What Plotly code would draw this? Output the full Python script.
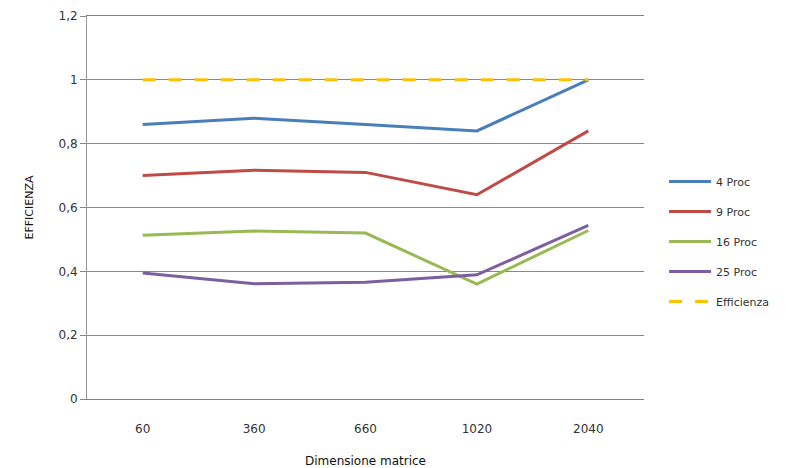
import plotly.graph_objects as go

categories = ["60", "360", "660", "1020", "2040"]
proc4 = [0.86, 0.88, 0.86, 0.84, 1.0]
proc9 = [0.70, 0.717, 0.71, 0.64, 0.84]
proc16 = [0.513, 0.526, 0.52, 0.36, 0.528]
proc25 = [0.395, 0.361, 0.366, 0.389, 0.544]
efficienza = [1, 1, 1, 1, 1]
ytick_vals = [0, 0.2, 0.4, 0.6, 0.8, 1.0, 1.2]
ytick_text = ["0", "0,2", "0,4", "0,6", "0,8", "1", "1,2"]

series = [
    ("4 Proc", proc4, "#4A7EBB", "solid"),
    ("9 Proc", proc9, "#BE4B48", "solid"),
    ("16 Proc", proc16, "#98B954", "solid"),
    ("25 Proc", proc25, "#7D5FA0", "solid"),
    ("Efficienza", efficienza, "#FFC000", "13px,13px"),
]

fig = go.Figure()
for i, (name, vals, color, dash) in enumerate(series):
    fig.add_trace(go.Scatter(
        x=categories, y=vals, name=name, mode="lines",
        line=dict(color=color, width=3, dash=dash),
        legendgroup=name,
    ))

font_family = "DejaVu Sans, sans-serif"
fig.update_layout(
    width=790, height=468,
    margin=dict(l=79, r=154, t=8, b=77),
    paper_bgcolor="white", plot_bgcolor="white",
    font=dict(family=font_family, size=11, color="#333333"),
    showlegend=True,
    legend=dict(x=1.036, y=0.606, xanchor="left", yanchor="top",
                font=dict(size=11, color="#333333"),
                traceorder="grouped", tracegroupgap=11,
                itemwidth=42,
                bgcolor="rgba(0,0,0,0)"),
    xaxis=dict(
        type="category", range=[-0.5, 4.5], automargin=False,
        showgrid=False, zeroline=False,
        showline=True, mirror=True, linecolor="#7F7F7F", linewidth=1,
        ticks="", ticklabelstandoff=19,
        tickfont=dict(size=12, color="#333333"),
        title=dict(text="Dimensione matrice", font=dict(size=12, color="#111111"), standoff=21),
    ),
    yaxis=dict(
        range=[0, 1.2], tickvals=ytick_vals, ticktext=ytick_text,
        automargin=False,
        showgrid=True, gridcolor="#888888", gridwidth=1,
        zeroline=False, showline=True, linecolor="#999999", linewidth=1,
        ticks="outside", ticklen=6, tickcolor="#888888",
        tickfont=dict(size=12, color="#333333"),
        title=dict(text="EFFICIENZA", font=dict(size=11, color="#111111"), standoff=22),
    ),
)
fig.write_html("out.html")
